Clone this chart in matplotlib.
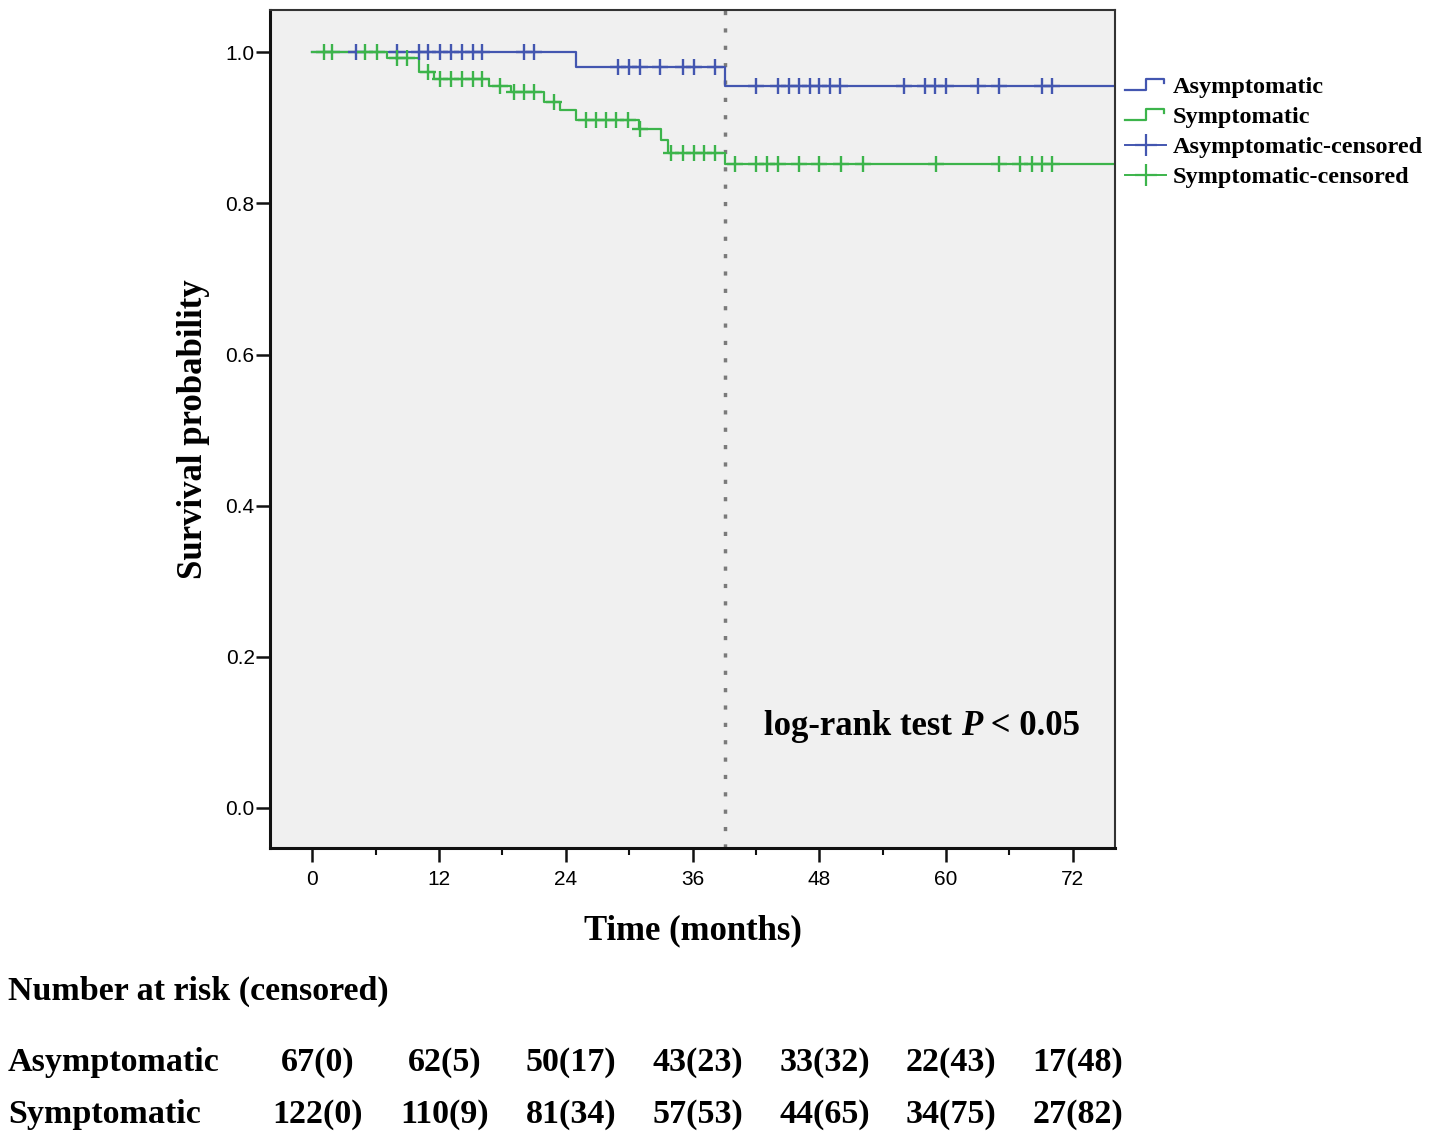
import numpy as np
import matplotlib
matplotlib.use("Agg")
import matplotlib.pyplot as plt
from matplotlib.lines import Line2D
from matplotlib.legend_handler import HandlerBase
from matplotlib.transforms import blended_transform_factory

# -------------------------------
# DATA
# -------------------------------
asym_times = [0, 25.0, 39.1]
asym_surv = [1.0, 0.980, 0.955]
asym_censored = [4.1, 8.0, 10.1, 11.0, 12.1, 13.1, 14.2, 15.2, 16.1, 20.0, 21.0,
                 28.9, 30.0, 31.0, 32.9, 35.1, 36.1, 38.1,
                 42.0, 44.1, 45.1, 46.1, 47.1, 48.0, 49.0, 50.0, 56.0, 58.0,
                 59.0, 60.0, 63.0, 65.0, 69.1, 70.0]

sym_times = [0, 7.1, 10.1, 11.5, 16.7, 18.8, 21.9, 23.5, 25.0, 30.9, 33.0, 33.7, 39.1]
sym_surv = [1.0, 0.992, 0.974, 0.965, 0.956, 0.948, 0.934, 0.923, 0.911, 0.898,
            0.884, 0.867, 0.852]
sym_censored = [1.1, 1.9, 5.0, 6.1, 8.0, 9.0, 11.0, 12.1, 13.1, 14.2, 15.2, 16.1,
                17.8, 19.1, 20.0, 21.0, 22.9, 25.9, 26.9, 27.8, 28.8, 29.9, 31.0,
                34.0, 35.1, 36.1, 37.1, 38.1,
                40.0, 42.0, 43.1, 44.1, 46.1, 48.0, 50.1, 52.1, 59.1, 65.0, 67.0,
                68.1, 69.1, 70.0]

cutoff_month = 39.1

risk_times = [0, 12, 24, 36, 48, 60, 72]
asym_risk = ["67(0)", "62(5)", "50(17)", "43(23)", "33(32)", "22(43)", "17(48)"]
sym_risk = ["122(0)", "110(9)", "81(34)", "57(53)", "44(65)", "34(75)", "27(82)"]

BLUE = "#4356b0"
GREEN = "#3cb44b"
SERIF = "Liberation Serif"
SANS = "Liberation Sans"


def step_at(times, surv, t):
    idx = np.searchsorted(np.array(times), np.array(t), side="right") - 1
    return np.array(surv)[idx]


class StepHandler(HandlerBase):
    # little step glyph like the SPSS legend
    def create_artists(self, legend, orig_handle, xdescent, ydescent,
                       width, height, fontsize, trans):
        xs = np.array([0, 0.5, 0.5, 0.95, 0.95]) * width - xdescent
        ys = np.array([0.2, 0.2, 0.85, 0.85, 0.6]) * height - ydescent
        line = Line2D(xs, ys, color=orig_handle.get_color(),
                      lw=orig_handle.get_linewidth())
        line.set_transform(trans)
        return [line]


fig = plt.figure(figsize=(14.3, 11.38), dpi=100)
ax = fig.add_axes([270 / 1430, 1 - 848 / 1138, 845 / 1430, 838 / 1138])
ax.set_facecolor("#f0f0f0")

xmax = 76
h_asym, = ax.step(asym_times + [xmax], asym_surv + [asym_surv[-1]], where="post",
                  color=BLUE, lw=1.6)
h_sym, = ax.step(sym_times + [xmax], sym_surv + [sym_surv[-1]], where="post",
                 color=GREEN, lw=1.6)
ax.plot(asym_censored, step_at(asym_times, asym_surv, asym_censored),
        ls="none", marker="+", ms=11, mew=1.7, color=BLUE)
ax.plot(sym_censored, step_at(sym_times, sym_surv, sym_censored),
        ls="none", marker="+", ms=11, mew=1.7, color=GREEN)

ax.axvline(cutoff_month, color="#7a7a7a", ls=(0, (1.2, 3.8)), lw=2.5, zorder=1)

ax.set_xlim(-4, xmax)
ax.set_ylim(-0.053, 1.056)
ax.set_xticks(np.arange(0, 73, 12))
ax.set_xticks(np.arange(6, 73, 12), minor=True)
ax.set_yticks(np.arange(0, 1.01, 0.2))
ax.set_yticklabels([f"{v:.1f}" for v in np.arange(0, 1.01, 0.2)])
ax.tick_params(axis="both", which="major", direction="out", length=10, width=1.8,
               labelsize=15, color="#111111")
ax.tick_params(axis="x", which="major", pad=6)
ax.tick_params(axis="y", which="major", pad=1)
ax.tick_params(axis="x", which="minor", direction="out", length=5, width=1.5,
               color="#111111")
for lab in ax.get_xticklabels() + ax.get_yticklabels():
    lab.set_fontfamily(SANS)

for side in ["top", "right"]:
    ax.spines[side].set_linewidth(1.5)
    ax.spines[side].set_color("#333333")
for side in ["left", "bottom"]:
    ax.spines[side].set_linewidth(2.2)
    ax.spines[side].set_color("#111111")

ax.set_xlabel("Time (months)", fontfamily=SERIF, fontweight="bold", fontsize=25)
ax.set_ylabel("Survival probability", fontfamily=SERIF, fontweight="bold", fontsize=25)
ax.xaxis.set_label_coords(0.5, -0.079)
ax.yaxis.set_label_coords(-0.071, 0.5)

# log-rank text, P in italics
t1 = ax.text(0.585, 0.125, "log-rank test ", transform=ax.transAxes,
             fontfamily=SERIF, fontweight="bold", fontsize=25, va="bottom")
t2 = ax.annotate("P", xy=(1, 0), xycoords=t1, fontfamily=SERIF, fontweight="bold",
                 fontstyle="italic", fontsize=25, va="bottom")
ax.annotate(" < 0.05", xy=(1, 0), xycoords=t2, fontfamily=SERIF, fontweight="bold",
            fontsize=25, va="bottom")

# legend outside on the right
c_asym = Line2D([], [], color=BLUE, lw=1.4, marker="+", ms=16, mew=1.6)
c_sym = Line2D([], [], color=GREEN, lw=1.4, marker="+", ms=16, mew=1.6)
leg = fig.legend([h_asym, h_sym, c_asym, c_sym],
                 ["Asymptomatic", "Symptomatic", "Asymptomatic-censored",
                  "Symptomatic-censored"],
                 handler_map={h_asym: StepHandler(), h_sym: StepHandler()},
                 loc="upper left", bbox_to_anchor=(1125 / 1430, 1 - 76 / 1138),
                 frameon=False, borderpad=0, borderaxespad=0, handlelength=1.7,
                 handletextpad=0.25, labelspacing=0.33, numpoints=1,
                 prop={"family": SERIF, "weight": "bold", "size": 17.5})

# number at risk table
fig.text(8 / 1430, 1 - 991 / 1138, "Number at risk (censored)", fontfamily=SERIF,
         fontweight="bold", fontsize=24.5, va="center")
trans = blended_transform_factory(ax.transData, fig.transFigure)
rows = [("Asymptomatic", asym_risk, 1063), ("Symptomatic", sym_risk, 1115)]
for name, vals, ypix in rows:
    fig.text(8 / 1430, 1 - ypix / 1138, name, fontfamily=SERIF, fontweight="bold",
             fontsize=24.5, va="center")
    for t, v in zip(risk_times, vals):
        ax.text(t + 0.5, 1 - ypix / 1138, v, transform=trans, fontfamily=SERIF,
                fontweight="bold", fontsize=24.5, va="center", ha="center",
                clip_on=False)

fig.savefig("out.png", dpi=100)
plt.close()
